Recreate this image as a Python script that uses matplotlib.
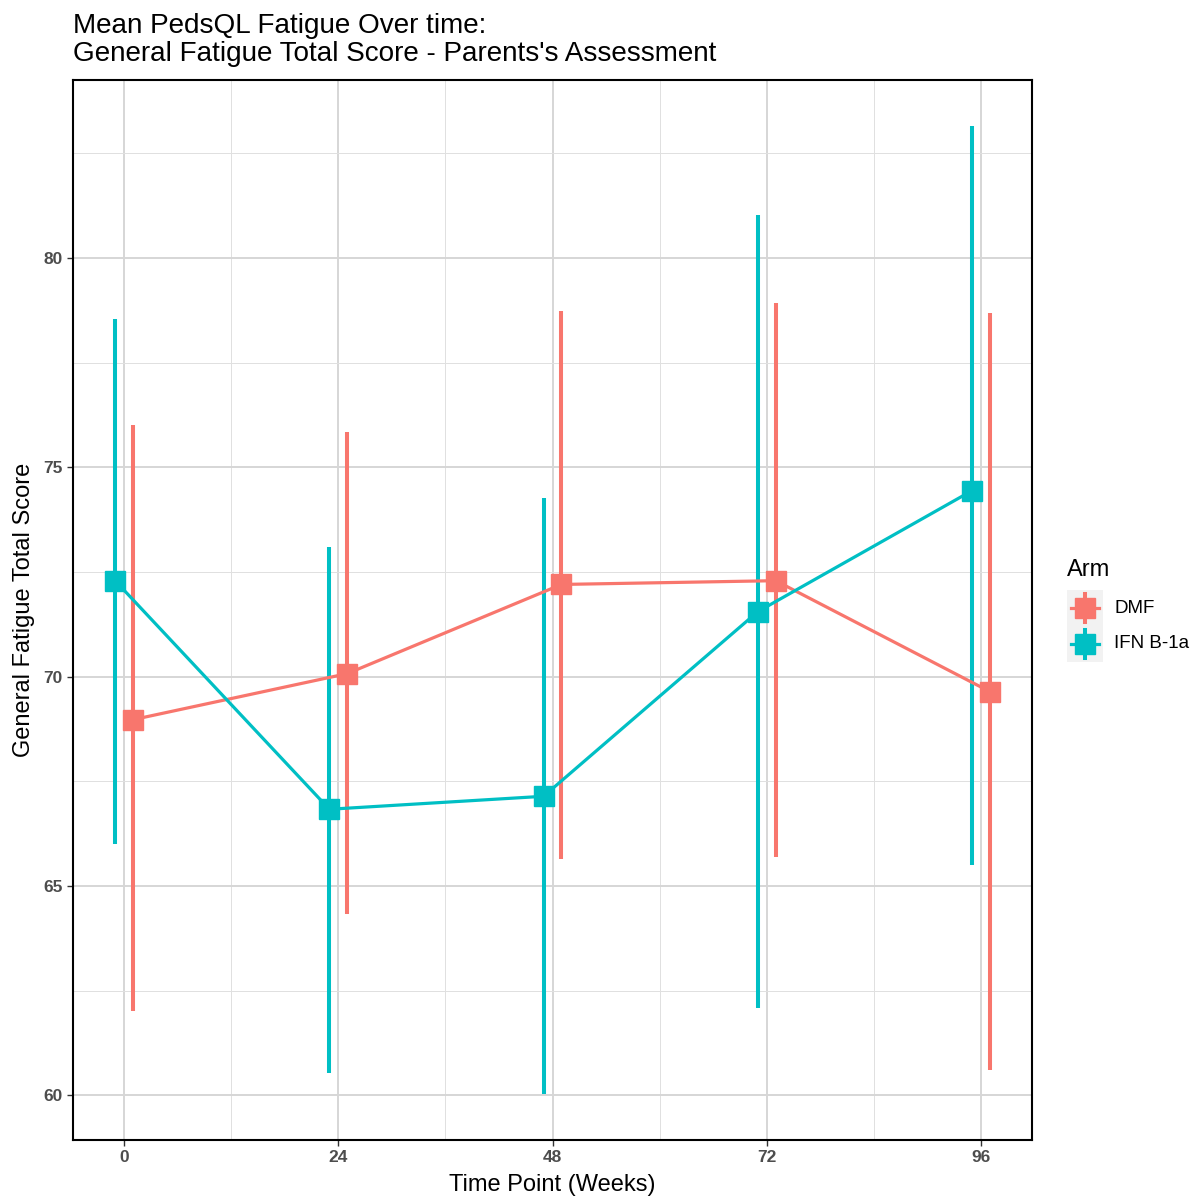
import numpy as np
import matplotlib.pyplot as plt
from matplotlib.patches import Rectangle
from matplotlib.lines import Line2D

plt.rcParams['font.family'] = ['Liberation Sans', 'DejaVu Sans']

weeks = [0, 24, 48, 72, 96]
arms = ['DMF', 'IFN B-1a']
colors = {'DMF': '#F8766D', 'IFN B-1a': '#00BFC4'}
dodge = {'DMF': 1.0, 'IFN B-1a': -1.0}

mean_vals = {
    'DMF':      [68.97, 70.07, 72.20, 72.29, 69.64],
    'IFN B-1a': [72.29, 66.83, 67.14, 71.55, 74.44],
}
upper_vals = {
    'DMF':      [76.01, 75.85, 78.73, 78.93, 78.69],
    'IFN B-1a': [78.54, 73.10, 74.27, 81.03, 83.15],
}
lower_vals = {
    'DMF':      [62.00, 64.34, 65.63, 65.68, 60.60],
    'IFN B-1a': [65.99, 60.52, 60.02, 62.08, 65.51],
}

W, H = 1197, 1201
fig = plt.figure(figsize=(W / 100, H / 100), dpi=100)
ax = fig.add_axes([0.061, 0.0508, 0.801, 0.8826])

for arm in arms:
    x = np.array(weeks) + dodge[arm]
    m = np.array(mean_vals[arm])
    lo = m - np.array(lower_vals[arm])
    hi = np.array(upper_vals[arm]) - m
    ax.errorbar(x, m, yerr=[lo, hi], color=colors[arm], lw=2.3,
                elinewidth=2.9, capsize=0, marker='s', ms=14,
                zorder=3, label=arm)

ax.set_xlim(-5.72, 101.7)
ax.set_ylim(58.93, 84.25)
ax.set_xticks(weeks)
ax.set_xticks([12, 36, 60, 84], minor=True)
ax.set_yticks([60, 65, 70, 75, 80])
ax.set_yticks([62.5, 67.5, 72.5, 77.5, 82.5], minor=True)
ax.grid(which='major', color='#D6D6D6', lw=1.4, zorder=0)
ax.grid(which='minor', color='#E0E0E0', lw=0.7, zorder=0)
ax.set_axisbelow(True)
for s in ax.spines.values():
    s.set_color('black')
    s.set_linewidth(1.5)
ax.tick_params(which='major', length=4, color='#333333', width=1,
               labelsize=12.5, labelcolor='#4D4D4D')
ax.tick_params(which='minor', length=0)
for lab in ax.get_xticklabels() + ax.get_yticklabels():
    lab.set_fontweight('bold')

ax.set_xlabel('Time Point (Weeks)', fontsize=17, labelpad=6)
ax.set_ylabel('General Fatigue Total Score', fontsize=17, labelpad=6)
ax.set_title("Mean PedsQL Fatigue Over time:\nGeneral Fatigue Total Score - Parents's Assessment",
             loc='left', fontsize=20.1, pad=14, linespacing=1.1)


def fx(px):
    return px / W


def fy(py):
    return 1 - py / H


# legend drawn by hand, ggplot style
fig.text(fx(1067), fy(570), 'Arm', fontsize=17, ha='left', va='center')
fig.patches.append(Rectangle((fx(1067), fy(662)), 36 / W, 72 / H,
                             transform=fig.transFigure, facecolor='#F2F2F2',
                             edgecolor='none', zorder=0))
for arm, cy in zip(arms, [608, 644]):
    c = colors[arm]
    fig.add_artist(Line2D([fx(1071), fx(1099)], [fy(cy), fy(cy)], color=c,
                          lw=2.3, transform=fig.transFigure))
    fig.add_artist(Line2D([fx(1085), fx(1085)], [fy(cy - 14), fy(cy + 14)], color=c,
                          lw=2.9, transform=fig.transFigure))
    fig.add_artist(Line2D([fx(1085)], [fy(cy)], color=c, marker='s', ms=14,
                          ls='none', transform=fig.transFigure))
    fig.text(fx(1114), fy(cy), arm, fontsize=13.5, ha='left', va='center')

fig.savefig('out.png', dpi=100)
